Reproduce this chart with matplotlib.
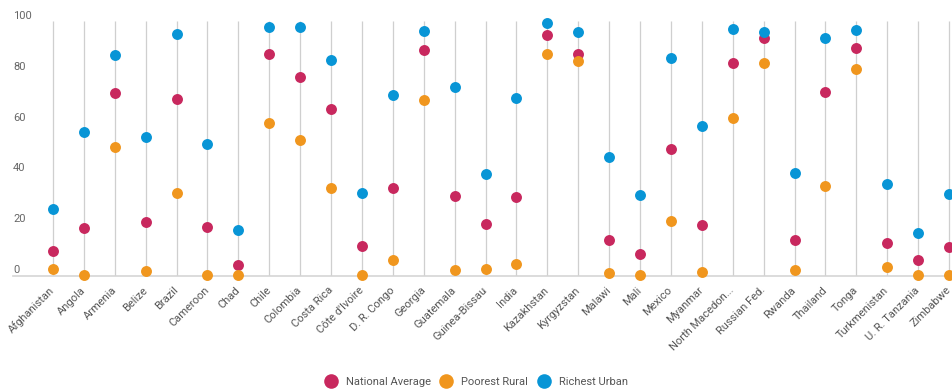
import matplotlib
matplotlib.use("Agg")
import matplotlib.pyplot as plt
import matplotlib.transforms as mtransforms
from matplotlib.lines import Line2D

plt.rcParams['font.family'] = ['Roboto', 'DejaVu Sans']

# --- Data ---
countries = ['Afghanistan', 'Angola', 'Armenia', 'Belize', 'Brazil', 'Cameroon', 'Chad',
             'Chile', 'Colombia', 'Costa Rica', "Côte d'Ivoire", 'D. R. Congo', 'Georgia',
             'Guatemala', 'Guinea-Bissau', 'India', 'Kazakhstan', 'Kyrgyzstan', 'Malawi',
             'Mali', 'Mexico', 'Myanmar', 'North Macedon...', 'Russian Fed.', 'Rwanda',
             'Thailand', 'Tonga', 'Turkmenistan', 'U. R. Tanzania', 'Zimbabwe']

national_average = [9.6, 18.4, 71.5, 20.9, 69.4, 18.9, 4.1, 86.9, 78.0, 65.5,
                    11.5, 34.4, 88.6, 31.2, 19.9, 30.7, 94.5, 87.1, 13.8, 8.1,
                    49.5, 19.6, 83.5, 93.4, 13.8, 71.9, 89.3, 12.6, 5.8, 10.9]

poorest_rural = [2.5, 0.0, 50.3, 1.7, 32.4, 0.0, 0.0, 59.8, 53.1, 34.1,
                 0.1, 5.8, 68.9, 2.0, 2.2, 4.3, 86.9, 84.4, 0.9, 0.0,
                 21.4, 1.3, 61.9, 83.5, 2.0, 35.0, 81.2, 3.0, 0.0, 0.0]

richest_urban = [25.9, 56.2, 86.5, 54.5, 94.7, 51.6, 17.8, 97.5, 97.5, 84.8,
                 32.4, 71.0, 96.2, 74.0, 39.6, 69.7, 99.1, 95.8, 46.5, 31.6,
                 85.6, 58.7, 96.9, 95.5, 40.3, 93.4, 96.5, 35.8, 16.4, 32.0]

series_names = ['National Average', 'Poorest Rural', 'Richest Urban']
colors = ['#c8285e', '#f0961e', '#0895d6']
y_ticks = [0, 20, 40, 60, 80, 100]

# --- Figure ---
W, H = 953, 390
fig = plt.figure(figsize=(W / 100, H / 100), dpi=100)
ax = fig.add_axes([13 / W, (H - 276) / H, (W - 13) / W, (276 - 21) / H])

x = list(range(len(countries)))
ax.vlines(x, -0.4, 100, color='#cfcfcf', lw=0.9, zorder=1)

for vals, c in zip([national_average, poorest_rural, richest_urban], colors):
    ax.scatter(x, vals, s=62, color=c, linewidths=0, zorder=3, clip_on=False)

ax.set_xlim(-1.295, 29.13)
ax.set_ylim(-0.4, 100)

for s in ['top', 'right', 'left']:
    ax.spines[s].set_visible(False)
ax.spines['bottom'].set_color('#d5d5d5')
ax.spines['bottom'].set_linewidth(1.2)

# y labels sit just above their values, inside the plot
ax.set_yticks([])
trans = mtransforms.blended_transform_factory(ax.transAxes, ax.transData)
for v in y_ticks:
    ax.text(0, v, str(v), transform=trans, ha='left', va='bottom',
            fontsize=8, color='#666666')

ax.set_xticks(x)
ax.set_xticklabels(countries, rotation=45, ha='right', va='center',
                   rotation_mode='anchor', fontsize=8, color='#555555')
ax.tick_params(axis='x', length=0, pad=9)

handles = [Line2D([0], [0], marker='o', ls='none', markersize=10.5,
                  markerfacecolor=c, markeredgewidth=0) for c in colors]
fig.legend(handles, series_names, loc='center', bbox_to_anchor=(0.5, 8 / H),
           ncol=3, frameon=False, fontsize=8, handlelength=1.0,
           handletextpad=0.86, columnspacing=0.9, labelcolor='#555555')

fig.savefig('out.png', dpi=100)
